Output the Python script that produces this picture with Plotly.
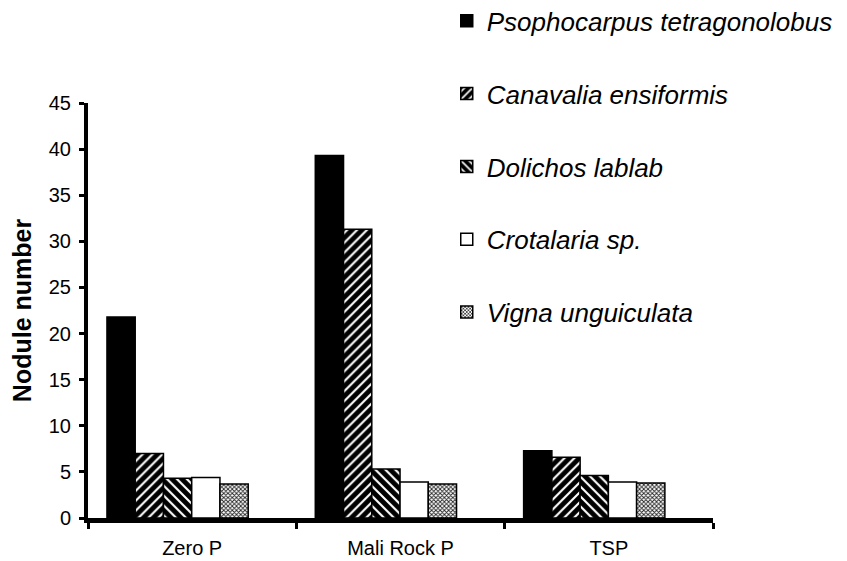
import plotly.graph_objects as go

categories = ["Zero P", "Mali Rock P", "TSP"]
species = ["Psophocarpus tetragonolobus", "Canavalia ensiformis", "Dolichos lablab",
           "Crotalaria sp.", "Vigna unguiculata"]
psophocarpus = [21.8, 39.3, 7.3]
canavalia = [7.0, 31.3, 6.6]
dolichos = [4.3, 5.3, 4.6]
crotalaria = [4.4, 3.9, 3.9]
vigna = [3.7, 3.7, 3.8]
y_ticks = [0, 5, 10, 15, 20, 25, 30, 35, 40, 45]

series = [psophocarpus, canavalia, dolichos, crotalaria, vigna]

styles = [
    dict(color="black", pattern=dict(shape="")),
    dict(color="black", pattern=dict(shape="/", fgcolor="white", bgcolor="black",
                                     fillmode="replace", size=7, solidity=0.3)),
    dict(color="black", pattern=dict(shape="\\", fgcolor="white", bgcolor="black",
                                     fillmode="replace", size=7, solidity=0.3)),
    dict(color="white", pattern=dict(shape="")),
    dict(color="white", pattern=dict(shape="x", fgcolor="#222222", bgcolor="white",
                                     fillmode="replace", size=3, solidity=0.5)),
]

bar_width = 0.1356
first_offset = -0.409

fig = go.Figure()
for i, (name, vals, st) in enumerate(zip(species, series, styles)):
    fig.add_trace(go.Bar(
        x=categories, y=vals, name=f"<i>{name}</i>",
        legendgroup=f"g{i}",
        width=bar_width, offset=first_offset + i * bar_width,
        marker=dict(color=st["color"], pattern=st["pattern"],
                    line=dict(color="black", width=1.5)),
    ))

fig.update_layout(
    width=839, height=553,
    paper_bgcolor="white", plot_bgcolor="white",
    barmode="overlay",
    margin=dict(l=80, r=134, t=95, b=43, autoexpand=False),
    font=dict(family="Liberation Sans, Arial, sans-serif", color="black"),
    showlegend=True,
    legend=dict(x=0.574, y=0.44, xanchor="left", yanchor="bottom",
                font=dict(size=26, color="black"), tracegroupgap=36,
                bgcolor="rgba(0,0,0,0)"),
    xaxis=dict(type="category", range=[-0.5, 2.5], tickson="boundaries",
               showline=True, linewidth=5, linecolor="black",
               ticks="outside", ticklen=6, tickwidth=3, tickcolor="black",
               tickfont=dict(size=20), ticklabelstandoff=8,
               showgrid=False, zeroline=False),
    yaxis=dict(range=[0, 45], tickvals=y_ticks, showline=True, linewidth=4,
               linecolor="black", ticks="outside", ticklen=5, tickwidth=3,
               tickcolor="black", tickfont=dict(size=20), ticklabelstandoff=4,
               showgrid=False, zeroline=False,
               title=dict(text="<b>Nodule number</b>", font=dict(size=25), standoff=17)),
)

fig.write_html("out.html")
